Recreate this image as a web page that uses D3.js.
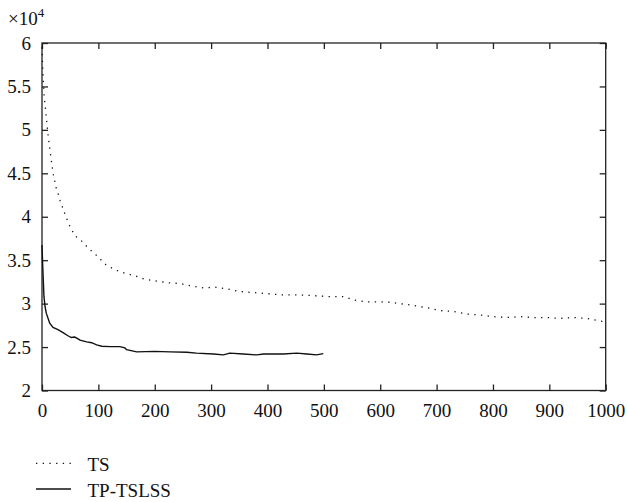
<!DOCTYPE html>
<html>
<head>
<meta charset="utf-8">
<script src="https://cdnjs.cloudflare.com/ajax/libs/d3/7.8.5/d3.min.js"></script>
<style>
  body { margin: 0; background: #fff; }
  text { font-family: "Liberation Serif", "Times New Roman", serif; fill: #111; }
</style>
</head>
<body>
<div id="chart"></div>
<script>
// TS (dotted) curve, values in units of 10^4
var tsX = [0, 1, 2, 3.5, 5.9, 8.3, 10.6, 13.7, 16.5, 20, 24.8, 28.4, 31.9, 39, 47.9, 58.5, 67.4, 82, 97.6, 113, 129, 146.7, 165, 182.7, 203.5, 224.8, 246, 266.6, 286.9, 307, 327.7, 350, 369, 389.7, 408.6, 428, 457.7, 487.3, 511, 534.5, 555, 576, 611.5, 635, 658.7, 685, 706, 729.6, 753.4, 777, 800.6, 824.4, 848, 871.6, 895, 919, 942.5, 966, 990, 1000];
var tsY = [5.95, 5.75, 5.6, 5.41, 5.26, 5.10, 4.95, 4.79, 4.65, 4.49, 4.34, 4.27, 4.19, 4.06, 3.91, 3.78, 3.74, 3.64, 3.55, 3.45, 3.39, 3.35, 3.32, 3.28, 3.26, 3.24, 3.23, 3.20, 3.18, 3.19, 3.17, 3.14, 3.13, 3.12, 3.11, 3.10, 3.10, 3.09, 3.08, 3.08, 3.04, 3.02, 3.02, 3.00, 2.98, 2.95, 2.92, 2.91, 2.88, 2.87, 2.85, 2.84, 2.85, 2.84, 2.84, 2.83, 2.84, 2.83, 2.80, 2.79];

// TP-TSLSS (solid) curve
var tpX = [0, 0.9, 1.8, 3.5, 5.3, 7.6, 13.7, 19.5, 28.4, 37.3, 46, 52, 58, 64, 67.4, 79.3, 88, 97, 106, 120.6, 138, 147, 150, 168, 200, 227, 257, 274, 304, 322, 333, 357, 381, 393, 428, 452, 470, 487, 499];
var tpY = [3.675, 3.50, 3.35, 3.08, 2.97, 2.89, 2.775, 2.725, 2.70, 2.667, 2.63, 2.61, 2.615, 2.595, 2.58, 2.56, 2.55, 2.525, 2.51, 2.505, 2.505, 2.49, 2.47, 2.445, 2.45, 2.445, 2.44, 2.43, 2.42, 2.41, 2.43, 2.42, 2.41, 2.42, 2.42, 2.43, 2.42, 2.41, 2.425];

var xTicks = [0, 100, 200, 300, 400, 500, 600, 700, 800, 900, 1000];
var yTicks = [2, 2.5, 3, 3.5, 4, 4.5, 5, 5.5, 6];
var seriesNames = ["TS", "TP-TSLSS"];

var width = 627;
var height = 502;
var plotLeft = 42, plotRight = 605.7, plotTop = 43, plotBottom = 390.5;

var svg = d3.select('#chart')
    .append('svg')
    .attr('width', width)
    .attr('height', height);

var x = d3.scaleLinear().domain([0, 1000]).range([plotLeft, plotRight]);
var y = d3.scaleLinear().domain([2, 6]).range([plotBottom, plotTop]);

var axisColor = "#222";
var tickLen = 6;

// frame
svg.append('rect')
    .attr('x', plotLeft)
    .attr('y', plotTop)
    .attr('width', plotRight - plotLeft)
    .attr('height', plotBottom - plotTop)
    .attr('fill', 'none')
    .attr('stroke', axisColor)
    .attr('stroke-width', 1.3);

// axes with inward ticks
svg.append('g')
    .attr('transform', 'translate(0,' + plotBottom + ')')
    .call(d3.axisBottom(x).tickValues(xTicks).tickSize(-tickLen).tickPadding(tickLen + 7).tickFormat(d3.format('d')))
    .call(g => g.select('.domain').remove());

svg.append('g')
    .attr('transform', 'translate(0,' + plotTop + ')')
    .call(d3.axisTop(x).tickValues(xTicks).tickSize(-tickLen).tickFormat(''))
    .call(g => g.select('.domain').remove());

svg.append('g')
    .attr('transform', 'translate(' + plotLeft + ',0)')
    .call(d3.axisLeft(y).tickValues(yTicks).tickSize(-tickLen).tickPadding(tickLen + 5).tickFormat(d => d))
    .call(g => g.select('.domain').remove());

svg.append('g')
    .attr('transform', 'translate(' + plotRight + ',0)')
    .call(d3.axisRight(y).tickValues(yTicks).tickSize(-tickLen).tickFormat(''))
    .call(g => g.select('.domain').remove());

svg.selectAll('.tick line').attr('stroke', axisColor).attr('stroke-width', 1.3);
svg.selectAll('.tick text')
    .attr('font-size', 19)
    .attr('font-family', '"Liberation Serif", serif')
    .attr('fill', '#111');

// exponent label
var expo = svg.append('text')
    .attr('x', 8)
    .attr('y', 25)
    .attr('font-size', 19);
expo.append('tspan').text('×10');
expo.append('tspan').attr('font-size', 13).attr('dy', -8).text('4');

var line = d3.line()
    .x(d => x(d[0]))
    .y(d => y(d[1]));

var tsData = tsX.map((v, i) => [v, tsY[i]]);
var tpData = tpX.map((v, i) => [v, tpY[i]]);

svg.append('path')
    .datum(tsData)
    .attr('d', line)
    .attr('fill', 'none')
    .attr('stroke', '#111')
    .attr('stroke-width', 1.3)
    .attr('stroke-dasharray', '1.3,5.4');

svg.append('path')
    .datum(tpData)
    .attr('d', line)
    .attr('fill', 'none')
    .attr('stroke', '#111')
    .attr('stroke-width', 1.4);

// legend
var legend = svg.append('g');
var legendY = [463.3, 489];
legend.selectAll('line')
    .data(seriesNames)
    .enter()
    .append('line')
    .attr('x1', 36)
    .attr('x2', 71)
    .attr('y1', (d, i) => legendY[i])
    .attr('y2', (d, i) => legendY[i])
    .attr('stroke', '#111')
    .attr('stroke-width', 1.3)
    .attr('stroke-dasharray', (d, i) => i === 0 ? '1.3,5.4' : null);

legend.selectAll('text')
    .data(seriesNames)
    .enter()
    .append('text')
    .attr('x', 87.5)
    .attr('y', (d, i) => legendY[i] + 7.5)
    .attr('font-size', 19)
    .text(d => d);
</script>
</body>
</html>
